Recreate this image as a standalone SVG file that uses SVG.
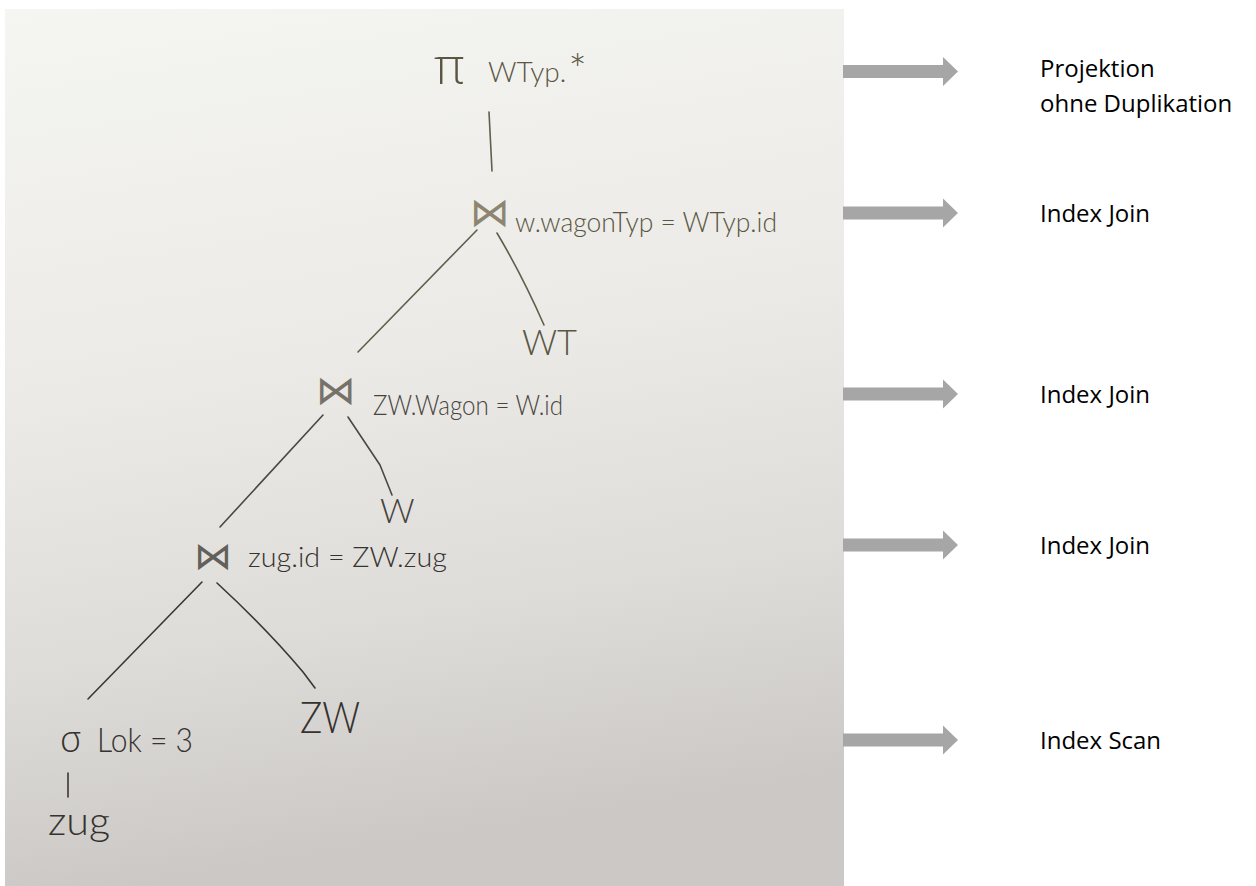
<svg xmlns="http://www.w3.org/2000/svg" width="1256" height="886" viewBox="0 0 1256 886">
  <defs>
    <linearGradient id="paper" x1="0" y1="0" x2="0.15" y2="1">
      <stop offset="0" stop-color="#f5f5f1"/>
      <stop offset="0.45" stop-color="#ebeae6"/>
      <stop offset="0.75" stop-color="#dedcd8"/>
      <stop offset="1" stop-color="#cbc8c5"/>
    </linearGradient>
    <path id="arrow" d="M0,-6.5 H100 V-14.5 L115,0 L100,14.5 V6.5 H0 Z"/>
  </defs>
  <style>
    .hand { font-family: Lato, "Open Sans", sans-serif; font-weight: 300; }
    .greek { font-family: "Open Sans", Lato, sans-serif; font-weight: 300; }
    .sym { font-family: "DejaVu Sans", sans-serif; }
    .ink1 { fill: #5b5643; }
    .ink2 { fill: #47443d; }
    .ink3 { fill: #35322f; }
    .sym.ink1 { fill: #8c8670; }
    .sym.ink2 { fill: #76726a; }
    .sym.ink3 { fill: #62605b; }
    .edge { fill: none; stroke-width: 1.6; stroke-linecap: round; stroke-linejoin: round; }
    .e1 { stroke: #625d4c; }
    .e2 { stroke: #4b4840; }
    .e3 { stroke: #3a3733; }
    .arrow { fill: #a6a6a6; }
    .label { font-family: "Open Sans", sans-serif; font-size: 24px; fill: #000; }
  </style>

  <rect width="1256" height="886" fill="#ffffff"/>
  <!-- sheet of paper -->
  <rect x="5" y="9" width="839" height="877" fill="url(#paper)"/>

  <!-- tree edges -->
  <g id="connectors">
    <path class="edge e1" d="M489,112 L492,171"/>
    <path class="edge e1" d="M477,230 L358,352"/>
    <path class="edge e1" d="M497,233 Q522,275 544,325"/>
    <path class="edge e2" d="M323,415 L220,527"/>
    <path class="edge e2" d="M348,417 L380,465 L392,495"/>
    <path class="edge e3" d="M202,582 L88,699"/>
    <path class="edge e3" d="M217,583 Q268,630 303,672 L315,688"/>
    <path class="edge e3" d="M68,773 L68,797"/>
  </g>

  <!-- projection -->
  <g id="node-projection">
    <text class="greek ink1" x="434" y="84" font-size="50">π</text>
    <text class="hand ink1" x="488" y="82" font-size="28">WTyp.<tspan dx="2" dy="4" font-size="44">*</tspan></text>
  </g>

  <!-- join w.wagonTyp = WTyp.id -->
  <g id="node-join-wagontyp">
    <text class="sym ink1" x="470" y="226" font-size="40">⋈</text>
    <text class="hand ink1" x="515" y="232" font-size="28" textLength="262" lengthAdjust="spacingAndGlyphs">w.wagonTyp = WTyp.id</text>
  </g>

  <g id="node-wt">
    <text class="hand ink1" x="522" y="355" font-size="36" textLength="55" lengthAdjust="spacingAndGlyphs">WT</text>
  </g>

  <!-- join ZW.Wagon = W.id -->
  <g id="node-join-wagon">
    <text class="sym ink2" x="316" y="404" font-size="40">⋈</text>
    <text class="hand ink2" x="373" y="415" font-size="28" textLength="190" lengthAdjust="spacingAndGlyphs">ZW.Wagon = W.id</text>
  </g>

  <g id="node-w">
    <text class="hand ink2" x="380" y="523" font-size="34">W</text>
  </g>

  <!-- join zug.id = ZW.zug -->
  <g id="node-join-zug">
    <text class="sym ink3" x="194" y="569" font-size="38">⋈</text>
    <text class="hand ink3" x="248" y="567" font-size="28" textLength="199" lengthAdjust="spacingAndGlyphs">zug.id = ZW.zug</text>
  </g>

  <g id="node-zw">
    <text class="hand ink3" x="300" y="733" font-size="44" textLength="60" lengthAdjust="spacingAndGlyphs">ZW</text>
  </g>

  <!-- selection -->
  <g id="node-selection">
    <text class="greek ink3" x="60" y="752" font-size="36">σ</text>
    <text class="hand ink3" x="97" y="752" font-size="34" textLength="96" lengthAdjust="spacingAndGlyphs">Lok = 3</text>
  </g>

  <g id="node-zug">
    <text class="hand ink3" x="48" y="835" font-size="40" textLength="62" lengthAdjust="spacingAndGlyphs">zug</text>
  </g>

  <!-- operator legend -->
  <g id="legend">
    <use href="#arrow" class="arrow" transform="translate(843,71.5)"/>
    <use href="#arrow" class="arrow" transform="translate(843,213)"/>
    <use href="#arrow" class="arrow" transform="translate(843,394)"/>
    <use href="#arrow" class="arrow" transform="translate(843,545)"/>
    <use href="#arrow" class="arrow" transform="translate(843,740)"/>
    <text class="label" x="1040" y="77">Projektion</text>
    <text class="label" x="1040" y="112">ohne Duplikation</text>
    <text class="label" x="1040" y="222">Index Join</text>
    <text class="label" x="1040" y="403">Index Join</text>
    <text class="label" x="1040" y="554">Index Join</text>
    <text class="label" x="1040" y="749">Index Scan</text>
  </g>
</svg>
